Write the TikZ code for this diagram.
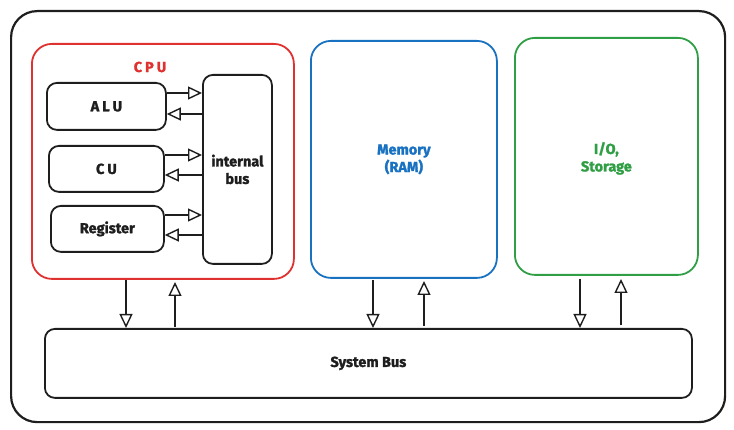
\documentclass[tikz,border=0pt]{standalone}
\usepackage{fontspec}
\setmainfont{Fira Sans}[BoldFeatures={FakeBold=1.5}]
\usetikzlibrary{arrows.meta}
\definecolor{exred}{HTML}{E03131}
\definecolor{exblue}{HTML}{1971C2}
\definecolor{exgreen}{HTML}{2F9E44}
\definecolor{exblack}{HTML}{1E1E1E}
\begin{document}
\begin{tikzpicture}[x=1pt,y=-1pt,
  box/.style={draw=exblack,line width=1.8pt,rounded corners=10pt,inner sep=0pt,anchor=north west},
  bigbox/.style={line width=1.8pt,rounded corners=20pt,inner sep=0pt,anchor=north west},
  lbl/.style={font=\bfseries\fontsize{14.5}{17.5}\selectfont,text=exblack,align=center},
  flow/.style={draw=exblack,line width=1.4pt,-{Triangle[open,length=14pt,width=13pt]}}
]
\useasboundingbox (0,0) rectangle (734,430);
% outer frame
\node[draw=exblack,line width=2.2pt,rounded corners=26pt,inner sep=0pt,anchor=north west,minimum width=714pt,minimum height=411pt] (frame) at (10,10) {};
% CPU
\node[bigbox,draw=exred,minimum width=262pt,minimum height=235pt] (cpu) at (31,43) {};
\node[lbl,text=exred] (cpulbl) at (150,67) {C\kern3pt P\kern3pt U};
\node[box,minimum width=119pt,minimum height=47pt] (alu) at (46,82) {};
\node[lbl] at (alu.center) {A\kern3pt L\kern3pt U};
\node[box,minimum width=115pt,minimum height=46pt] (cu) at (48,145) {};
\node[lbl] at (cu.center) {C\kern3pt U};
\node[box,minimum width=113pt,minimum height=46pt] (reg) at (50,205) {};
\node[lbl] at (reg.center) {Register};
\node[box,minimum width=69pt,minimum height=189pt] (ibus) at (202,74) {};
\node[lbl] at (ibus.center) {internal\\bus};
% internal arrows
\draw[flow] (alu.east |- 0,93) -- (ibus.west |- 0,93);
\draw[flow] (ibus.west |- 0,114) -- (alu.east |- 0,114);
\draw[flow] (cu.east |- 0,155) -- (ibus.west |- 0,155);
\draw[flow] (ibus.west |- 0,175) -- (cu.east |- 0,175);
\draw[flow] (reg.east |- 0,215) -- (ibus.west |- 0,215);
\draw[flow] (ibus.west |- 0,235) -- (reg.east |- 0,235);
% Memory
\node[bigbox,draw=exblue,minimum width=186pt,minimum height=237pt] (mem) at (310,40) {};
\node[lbl,text=exblue] at (mem.center) {Memory\\(RAM)};
% IO
\node[bigbox,draw=exgreen,minimum width=183pt,minimum height=237pt] (io) at (514,37) {};
\node[lbl,text=exgreen] at ([yshift=-2pt]io.center) {I/O,\\Storage};
% System bus
\node[box,minimum width=647pt,minimum height=69pt] (sbus) at (44,328) {};
\node[lbl] at (sbus.center) {System Bus};
% bus arrows
\draw[flow] (126,280) coordinate (c1) -- (c1 |- sbus.north);
\draw[flow] (175,327) coordinate (c2) -- (c2 |- 0,282);
\draw[flow] (373,280) coordinate (m1) -- (m1 |- sbus.north);
\draw[flow] (424,326) coordinate (m2) -- (m2 |- 0,281);
\draw[flow] (580,279) coordinate (i1) -- (i1 |- sbus.north);
\draw[flow] (621,325) coordinate (i2) -- (i2 |- 0,279);
\end{tikzpicture}
\end{document}
